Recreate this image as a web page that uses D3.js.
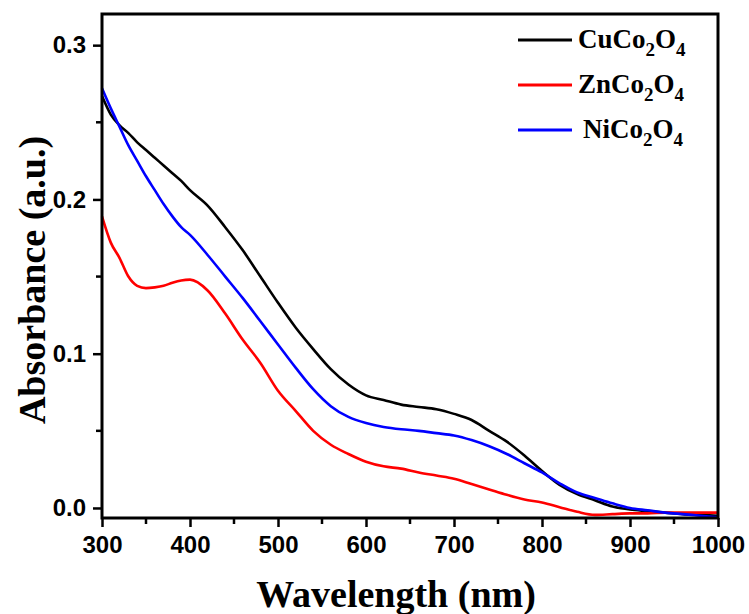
<!DOCTYPE html>
<html>
<head>
<meta charset="utf-8">
<script src="https://cdn.jsdelivr.net/npm/d3@7"></script>
<style>
  body { margin: 0; background: #fff; }
  svg { display: block; }
</style>
</head>
<body>
<svg id="chart" width="749" height="614"></svg>
<script>
// wavelengths (nm) shared by the three spectra
const wavelengths = [300,310,320,330,340,350,360,370,380,390,400,420,440,460,480,500,520,540,560,580,600,620,640,660,680,700,720,740,760,780,800,820,840,860,880,900,920,940,960,980,1000]

const cuCo2O4 = [0.267,0.255,0.248,0.243,0.237,0.232,0.227,0.222,0.217,0.212,0.206,0.196,0.182,0.167,0.150,0.133,0.117,0.103,0.090,0.080,0.073,0.070,0.067,0.0655,0.064,0.061,0.057,0.050,0.043,0.034,0.024,0.015,0.009,0.005,0.001,-0.001,-0.002,-0.003,-0.004,-0.0045,-0.005]
const znCo2O4 = [0.189,0.172,0.162,0.150,0.144,0.1425,0.143,0.144,0.146,0.1475,0.148,0.141,0.126,0.109,0.094,0.076,0.063,0.050,0.041,0.035,0.030,0.027,0.0255,0.023,0.021,0.019,0.0155,0.012,0.0085,0.0055,0.0035,0.0005,-0.0025,-0.0045,-0.004,-0.0035,-0.0035,-0.003,-0.003,-0.003,-0.003]
const niCo2O4 = [0.272,0.259,0.247,0.235,0.225,0.215,0.206,0.197,0.189,0.182,0.177,0.164,0.150,0.136,0.121,0.106,0.091,0.077,0.066,0.059,0.055,0.0525,0.051,0.050,0.0485,0.047,0.044,0.040,0.035,0.029,0.023,0.016,0.010,0.0065,0.003,0.000,-0.0015,-0.003,-0.004,-0.005,-0.006]

const seriesNames = [["Cu","Co","2","O","4"],["Zn","Co","2","O","4"],["Ni","Co","2","O","4"]]
const seriesColors = ["#000000","#ff0000","#0000ff"]
const seriesValues = [cuCo2O4, znCo2O4, niCo2O4]

const xTicks = [300,400,500,600,700,800,900,1000]
const xMinor = [350,450,550,650,750,850,950]
const yTicks = [0.0,0.1,0.2,0.3]
const yMinor = [0.05,0.15,0.25]

var svg = d3.select("#chart")
var mLeft = 102, mRight = 718, mTop = 14, mBottom = 518

var x = d3.scaleLinear().domain([300,1000]).range([mLeft,mRight])
var y = d3.scaleLinear().domain([-0.0065,0.3202]).range([mBottom,mTop])

var tickFont = "'Liberation Sans', Arial, sans-serif"
var serif = "'Liberation Serif', 'Times New Roman', serif"

// curves
var line = d3.line().x(d => x(d[0])).y(d => y(d[1])).curve(d3.curveMonotoneX)
var plot = svg.append("g")
seriesValues.forEach(function(vals, i) {
  var pts = wavelengths.map((w, j) => [w, vals[j]])
  plot.append("path").datum(pts).attr("d", line)
    .attr("fill","none").attr("stroke",seriesColors[i]).attr("stroke-width",2.6)
    .attr("stroke-linejoin","round")
})

// frame
svg.append("rect").attr("x",mLeft).attr("y",mTop).attr("width",mRight-mLeft).attr("height",mBottom-mTop)
  .attr("fill","none").attr("stroke","#000").attr("stroke-width",3)

// x axis
var xAxis = svg.append("g").attr("transform","translate(0,"+mBottom+")")
  .call(d3.axisBottom(x).tickValues(xTicks).tickFormat(d3.format("d")).tickSize(9).tickPadding(9))
xAxis.append("g").selectAll("line").data(xMinor).join("line")
  .attr("x1",d => x(d)).attr("x2",d => x(d)).attr("y1",0).attr("y2",6)
  .attr("stroke","#000").attr("stroke-width",2.5)

// y axis
var yAxis = svg.append("g").attr("transform","translate("+mLeft+",0)")
  .call(d3.axisLeft(y).tickValues(yTicks).tickFormat(d3.format(".1f")).tickSize(9).tickPadding(7))
yAxis.append("g").selectAll("line").data(yMinor).join("line")
  .attr("y1",d => y(d)).attr("y2",d => y(d)).attr("x1",0).attr("x2",-6)
  .attr("stroke","#000").attr("stroke-width",2.5)

svg.selectAll(".domain").remove()
svg.selectAll(".tick line").attr("stroke","#000").attr("stroke-width",2.5)
svg.selectAll(".tick text").attr("fill","#000")
  .style("font-family",tickFont).style("font-size","24px").style("font-weight","bold")

// axis titles
svg.append("text").attr("x",396).attr("y",607).attr("text-anchor","middle")
  .style("font-family",serif).style("font-size","38px").style("font-weight","bold")
  .text("Wavelength (nm)")
svg.append("text").attr("transform","translate(45,280) rotate(-90)").attr("text-anchor","middle")
  .style("font-family",serif).style("font-size","38px").style("font-weight","bold")
  .text("Absorbance (a.u.)")

// legend
var legend = svg.append("g")
seriesNames.forEach(function(parts, i) {
  var ly = 40 + i*45
  legend.append("line").attr("x1",518).attr("x2",572).attr("y1",ly).attr("y2",ly)
    .attr("stroke",seriesColors[i]).attr("stroke-width",3)
  var t = legend.append("text").attr("x", i == 2 ? 583 : 578).attr("y",ly+8)
    .style("font-family",serif).style("font-size","27px").style("font-weight","bold")
  t.append("tspan").text(parts[0]+parts[1])
  t.append("tspan").attr("dy",8).style("font-size","19px").text(parts[2])
  t.append("tspan").attr("dy",-8).text(parts[3])
  t.append("tspan").attr("dy",8).style("font-size","19px").text(parts[4])
})
</script>
</body>
</html>
